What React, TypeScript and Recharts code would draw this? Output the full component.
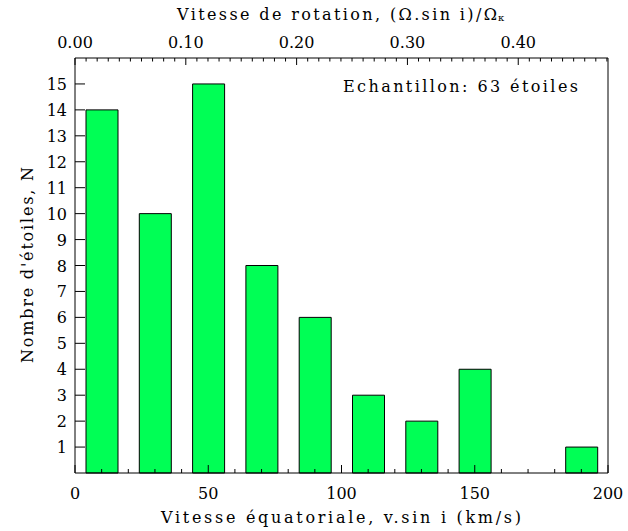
import { BarChart, Bar, XAxis, YAxis } from 'recharts'

// bin centres (km/s) and star counts per bin
const binCentres = [10, 30, 50, 70, 90, 110, 130, 150, 170, 190]
const counts = [14, 10, 15, 8, 6, 3, 2, 4, 0, 1]

const bottomMajor = [0, 50, 100, 150, 200]
const bottomTicks = Array.from({ length: 21 }, (_, i) => i * 10)
const topMajor = [0, 0.1, 0.2, 0.3, 0.4]
const topTicks = Array.from({ length: 49 }, (_, i) => Math.round(i * 100) / 10000)
const yTicks = [1, 2, 3, 4, 5, 6, 7, 8, 9, 10, 11, 12, 13, 14, 15]

const data = binCentres.map((v, i) => ({ v, n: counts[i] }))

const FONT = "'DejaVu Serif', serif"
const INK = '#000'
const GREEN = '#00ff55'

const txt = { fontFamily: FONT, fontSize: 16, fill: INK }

const isMajor = (list: number[], v: number) => list.some((m) => Math.abs(m - v) < 1e-6)

function BottomTick({ x, y, payload }: any) {
  const major = isMajor(bottomMajor, payload.value)
  return (
    <g>
      <line x1={x} x2={x} y1={y} y2={y - (major ? 8 : 4)} stroke={INK} />
      {major && (
        <text x={x} y={y + 26} textAnchor="middle" style={txt}>
          {payload.value}
        </text>
      )}
    </g>
  )
}

function TopTick({ x, y, payload }: any) {
  const major = isMajor(topMajor, payload.value)
  return (
    <g>
      <line x1={x} x2={x} y1={y} y2={y + (major ? 7 : 3.5)} stroke={INK} />
      {major && (
        <text x={x} y={y - 10} textAnchor="middle" style={txt}>
          {payload.value.toFixed(2)}
        </text>
      )}
    </g>
  )
}

function LeftTick({ x, y, payload }: any) {
  return (
    <g>
      <line x1={x} x2={x + 10} y1={y} y2={y} stroke={INK} />
      <text x={x - 8} y={y + 6} textAnchor="end" style={txt}>
        {payload.value}
      </text>
    </g>
  )
}

function RightTick({ x, y }: any) {
  return <line x1={x} x2={x - 10} y1={y} y2={y} stroke={INK} />
}

export default function App() {
  return (
    <div style={{ position: 'absolute', left: 0, top: 0, background: '#fff' }}>
      <BarChart width={628} height={531} data={data} margin={{ top: 0, right: 0, bottom: 0, left: 0 }}>
        <XAxis
          xAxisId="bottom"
          dataKey="v"
          type="number"
          domain={[0, 200]}
          ticks={bottomTicks}
          interval={0}
          height={58}
          tickSize={0}
          tickMargin={0}
          tick={<BottomTick />}
          axisLine={{ stroke: INK }}
          tickLine={false}
        />
        <XAxis
          xAxisId="top"
          orientation="top"
          dataKey="v"
          type="number"
          domain={[0, 0.481]}
          allowDataOverflow
          ticks={topTicks}
          interval={0}
          height={58}
          tickSize={0}
          tickMargin={0}
          tick={<TopTick />}
          axisLine={{ stroke: INK }}
          tickLine={false}
        />
        <YAxis
          yAxisId="left"
          type="number"
          domain={[0, 16]}
          ticks={yTicks}
          interval={0}
          width={75}
          tickSize={0}
          tickMargin={0}
          tick={<LeftTick />}
          axisLine={{ stroke: INK }}
          tickLine={false}
        />
        <YAxis
          yAxisId="right"
          orientation="right"
          type="number"
          domain={[0, 16]}
          ticks={yTicks}
          interval={0}
          width={20}
          tickSize={0}
          tickMargin={0}
          tick={<RightTick />}
          axisLine={{ stroke: INK }}
          tickLine={false}
        />
        <Bar
          xAxisId="bottom"
          yAxisId="left"
          dataKey="n"
          barSize={32}
          fill={GREEN}
          stroke={INK}
          strokeWidth={1}
          isAnimationActive={false}
        />
        <g style={txt}>
          <text x={177} y={20} textLength={320} lengthAdjust="spacing">
            Vitesse de rotation, (Ω.sin i)/Ω
          </text>
          <text x={498} y={21} style={{ fontSize: 10 }}>
            κ
          </text>
          <text x={161} y={523} textLength={360} lengthAdjust="spacing">
            Vitesse équatoriale, v.sin i (km/s)
          </text>
          <text
            x={33}
            y={265}
            transform="rotate(-90 33 265)"
            textAnchor="middle"
            textLength={196}
            lengthAdjust="spacing"
          >
            Nombre d'étoiles, N
          </text>
          <text x={343} y={92} textLength={235} lengthAdjust="spacing">
            Echantillon: 63 étoiles
          </text>
        </g>
      </BarChart>
    </div>
  )
}
